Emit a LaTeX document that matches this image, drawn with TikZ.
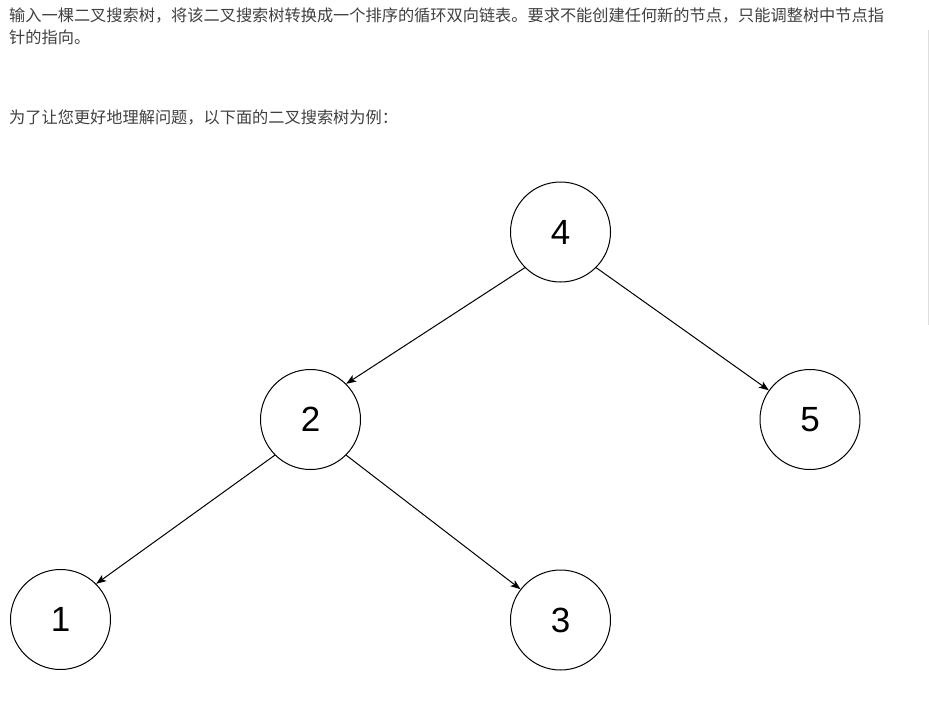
\documentclass[tikz,border=0pt]{standalone}
\usepackage{fontspec}
\setmainfont{Liberation Sans}
\newfontfamily\cjk{Noto Sans CJK SC}
\usetikzlibrary{arrows.meta}
\definecolor{txt}{RGB}{64,64,64}
\definecolor{barcol}{RGB}{222,222,222}
\begin{document}
\begin{tikzpicture}[x=1pt,y=-1pt,
  bst/.style={circle,draw=black,line width=1pt,minimum size=100pt,inner sep=0pt,font=\fontsize{35}{35}\selectfont},
  para/.style={anchor=base west,inner sep=0pt,text=txt,font=\cjk\fontsize{16.2}{20}\selectfont},
  link/.style={line width=1pt,-{Stealth[length=10pt,width=7.5pt,inset=2.5pt]}}]
\useasboundingbox (0,0) rectangle (929,717);
\node[para] (l1) at (9,21.5) {输入一棵二叉搜索树，将该二叉搜索树转换成一个排序的循环双向链表。要求不能创建任何新的节点，只能调整树中节点指};
\node[para] (l2) at (9,44) {针的指向。};
\node[para] (l3) at (9,123) {为了让您更好地理解问题，以下面的二叉搜索树为例：};
\coordinate (sbtop) at (928,30);
\coordinate (sbbot) at (928,325);
\draw[draw=barcol,line width=1pt] (sbtop) -- (sbbot);
\node[bst] (n4) at (560.5,232) {4};
\node[bst] (n2) at (310.5,419.5) {2};
\node[bst] (n5) at (810,419.5) {5};
\node[bst] (n1) at (60.5,619.5) {1};
\node[bst] (n3) at (560.5,620) {3};
\draw[link] (n4.225) -- (n2.45);
\draw[link] (n4.-45) -- (n5);
\draw[link] (n2.225) -- (n1.45);
\draw[link] (n2.-45) -- (n3);
\end{tikzpicture}
\end{document}
